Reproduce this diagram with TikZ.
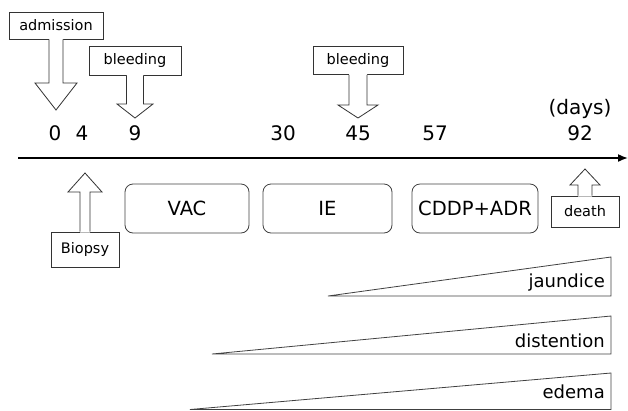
\documentclass[tikz,border=0pt]{standalone}
\usepackage{fontspec}
\setmainfont{DejaVu Sans}
\usetikzlibrary{arrows.meta,calc}
\tikzset{
  event box/.style={
    draw=black!80,
    line width=0.8pt,
    fill=white,
    inner sep=2pt,
    font=\fontsize{14.5}{16}\selectfont,
  },
  therapy box/.style={
    draw=black!75,
    line width=0.8pt,
    rounded corners=8pt,
    minimum height=49pt,
    font=\fontsize{19.5}{22}\selectfont,
  },
  day label/.style={font=\fontsize{20}{22}\selectfont, inner sep=0pt},
  callout line/.style={draw=black!80, line width=0.8pt, line join=miter},
  wedge/.style={draw=black!75, line width=0.8pt},
  wedge label/.style={font=\fontsize{18}{20}\selectfont, anchor=base east, inner sep=0pt},
  time axis/.style={line width=1.6pt, -{Latex[length=10pt,width=8pt]}},
}
% #1 box anchor, #2 tip, #3 shaft half width, #4 head half width, #5 head length (signed)
\newcommand\callarrow[5]{%
  \fill[white] let \p1=(#1), \p2=(#2), \n1={sign(\y1-\y2)} in
    ({\x2-#3pt},{\y1+\n1*1pt}) -- ({\x2-#3pt},{\y2+#5pt}) -- ({\x2-#4pt},{\y2+#5pt})
    -- (\x2,\y2) -- ({\x2+#4pt},{\y2+#5pt}) -- ({\x2+#3pt},{\y2+#5pt})
    -- ({\x2+#3pt},{\y1+\n1*1pt}) -- cycle;
  \draw[callout line] let \p1=(#1), \p2=(#2) in
    ({\x2-#3pt},\y1) -- ({\x2-#3pt},{\y2+#5pt}) -- ({\x2-#4pt},{\y2+#5pt})
    -- (\x2,\y2) -- ({\x2+#4pt},{\y2+#5pt}) -- ({\x2+#3pt},{\y2+#5pt})
    -- ({\x2+#3pt},\y1);
}

\begin{document}
\begin{tikzpicture}[x=1pt, y=-1pt]
  \useasboundingbox (0,0) rectangle (628,410);
  \clip (0,0) rectangle (628,410);

  % time axis and days
  \coordinate (axis start) at (18,158);
  \coordinate (axis end) at (628,158);
  \draw[time axis] (axis start) -- (axis end);
  \node[day label] (d0) at (55,133) {0};
  \node[day label] (d4) at (82,133) {4};
  \node[day label] (d9) at (135,133) {9};
  \node[day label] (d30) at (283,133) {30};
  \node[day label] (d45) at (358,133) {45};
  \node[day label] (d57) at (435,133) {57};
  \node[day label] (d92) at (580,133) {92};
  \node[day label] (days) at (580,109) {(days)};

  % events
  \node[event box, minimum width=94pt, minimum height=27pt] (admission) at (56,25.5) {admission};
  \coordinate (admission tip) at (56,110);
  \callarrow{admission.south}{admission tip}{7}{21}{27}

  \node[event box, minimum width=92pt, minimum height=29pt] (bleeding one) at (135,60.5) {bleeding};
  \coordinate (bleeding one tip) at (135,118);
  \callarrow{bleeding one.south}{bleeding one tip}{8.5}{18}{14}

  \node[event box, minimum width=90pt, minimum height=28pt] (bleeding two) at (358,60.5) {bleeding};
  \coordinate (bleeding two tip) at (358,118);
  \callarrow{bleeding two.south}{bleeding two tip}{9}{20}{13}

  \node[event box, minimum width=68pt, minimum height=35pt] (biopsy) at (85,249.5) {Biopsy};
  \coordinate (biopsy tip) at (85,173);
  \callarrow{biopsy.north}{biopsy tip}{5}{17}{-19}

  \node[event box, minimum width=68pt, minimum height=31pt] (death) at (585,211.5) {death};
  \coordinate (death tip) at (585,169);
  \callarrow{death.north}{death tip}{7}{15}{-16}

  % therapies
  \node[therapy box, minimum width=124pt] (vac) at (187,208.5) {VAC};
  \node[therapy box, minimum width=129pt] (ie) at (327.5,208.5) {IE};
  \node[therapy box, minimum width=126pt] (cddp) at (475,208.5) {CDDP+ADR};

  % symptoms
  \foreach \sym/\tx/\by/\ty/\ly in {jaundice/328/296/257/287, distention/212/354/316/347, edema/190/409.5/373/398} {
    \coordinate (\sym tail) at (\tx,\by);
    \coordinate (\sym top) at (611,\ty);
    \draw[wedge] (\sym tail) -- (\sym top |- \sym tail) -- (\sym top) -- cycle;
    \node[wedge label] (\sym) at (605,\ly) {\sym};
  }
\end{tikzpicture}
\end{document}
